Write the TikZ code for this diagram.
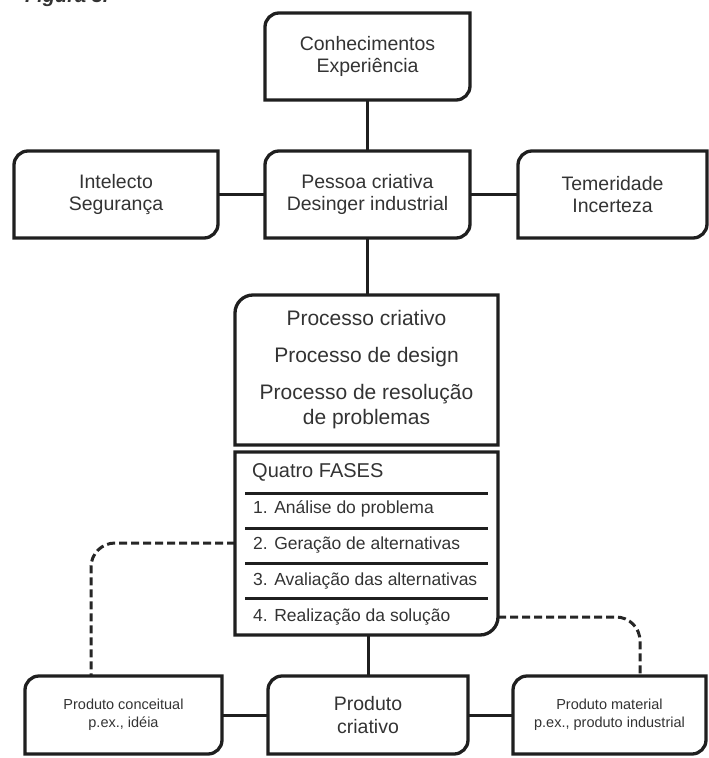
\documentclass[tikz,border=0pt]{standalone}
\usepackage{fontspec}
\setmainfont{Liberation Sans}

% Box outlines: rounded top-left and bottom-right corners
\newcommand\tlbrbox[2]{%
  \draw[ink] ([yshift=-#2pt]#1.north west)
    .. controls ([yshift=-0.45*#2pt]#1.north west) and ([xshift=0.45*#2pt]#1.north west) .. ([xshift=#2pt]#1.north west)
    -- (#1.north east) -- ([yshift=#2pt]#1.south east)
    .. controls ([yshift=0.45*#2pt]#1.south east) and ([xshift=-0.45*#2pt]#1.south east) .. ([xshift=-#2pt]#1.south east)
    -- (#1.south west) -- cycle;}
% only the top-left corner rounded
\newcommand\tlonlybox[2]{%
  \draw[ink] ([yshift=-#2pt]#1.north west)
    .. controls ([yshift=-0.45*#2pt]#1.north west) and ([xshift=0.45*#2pt]#1.north west) .. ([xshift=#2pt]#1.north west)
    -- (#1.north east) -- (#1.south east) -- (#1.south west) -- cycle;}
% only the bottom-right corner rounded
\newcommand\bronlybox[2]{%
  \draw[ink] (#1.north west) -- (#1.north east) -- ([yshift=#2pt]#1.south east)
    .. controls ([yshift=0.45*#2pt]#1.south east) and ([xshift=-0.45*#2pt]#1.south east) .. ([xshift=-#2pt]#1.south east)
    -- (#1.south west) -- cycle;}

\begin{document}
\begin{tikzpicture}[x=1pt,y=-1pt,
  ink/.style={draw=black!88, line width=3.3pt},
  link/.style={draw=black!88, line width=3pt},
  dashlink/.style={draw=black!85, line width=3pt, dash pattern=on 8pt off 4pt, rounded corners=24pt},
  frame/.style={inner sep=0pt, outer sep=0pt, draw=none, text=black!80, align=center},
  bigtxt/.style={font=\fontsize{19.5}{22.5}\selectfont},
  proctxt/.style={font=\fontsize{21}{25}\selectfont},
  smalltxt/.style={font=\fontsize{14.5}{18}\selectfont},
  phase/.style={inner sep=0pt, anchor=west, text=black!80, font=\fontsize{17.5}{21}\selectfont},
]
\useasboundingbox (0,0) rectangle (709,758);

% caption, partly cut off by the page edge
\node[anchor=base west, inner sep=0pt, text=black!80,
      font=\fontsize{20}{24}\selectfont\bfseries\itshape] (fig) at (25,2) {Figura 3.};

% boxes
\node[frame, bigtxt, minimum width=205pt, minimum height=87pt] (know) at (367.5,56.5) {Conhecimentos\\Experiência};
\node[frame, bigtxt, minimum width=205pt, minimum height=87pt] (person) at (367.5,194.5) {Pessoa criativa\\Desinger industrial};
\node[frame, bigtxt, minimum width=204pt, minimum height=87pt] (intel) at (116,194.5) {Intelecto\\Segurança};
\node[frame, bigtxt, minimum width=189pt, minimum height=87pt] (temer) at (612.5,194.5) {Temeridade\\Incerteza};
\node[frame, proctxt, minimum width=263pt, minimum height=150pt] (proc) at (366.5,370)
  {Processo criativo\\[12pt]Processo de design\\[12pt]Processo de resolução\\de problemas};
\node[frame, minimum width=263pt, minimum height=183pt] (fases) at (366.5,543.5) {};
\node[frame, bigtxt, minimum width=200pt, minimum height=78pt] (prodc) at (368,715) {Produto\\criativo};
\node[frame, smalltxt, minimum width=197pt, minimum height=78pt] (concept) at (123.5,715) {Produto conceitual\\p.ex., idéia};
\node[frame, smalltxt, minimum width=193pt, minimum height=78pt] (material) at (609.5,715) {Produto material\\p.ex., produto industrial};

% the four phases
\node[phase, font=\fontsize{20}{24}\selectfont] (f0) at (252,472) {Quatro FASES};
\node[phase] (f1) at (253,509) {1. Análise do problema};
\node[phase] (f2) at (253,545) {2. Geração de alternativas};
\node[phase] (f3) at (253,581) {3. Avaliação das alternativas};
\node[phase] (f4) at (253,617) {4. Realização da solução};
\foreach \yy in {493,528,563,598}
  \draw[link] (245,\yy) -- (488,\yy);

% solid connectors
\draw[link] (know.south) -- (person.north);
\draw[link] (intel.east) -- (person.west);
\draw[link] (person.east) -- (temer.west);
\draw[link] (person.south) -- (proc.north -| person.south);
\draw[link] (fases.south -| prodc.north) -- (prodc.north);
\draw[link] (concept.east) -- (prodc.west);
\draw[link] (prodc.east) -- (material.west);

% dashed connectors
\coordinate (dl) at (91,543);
\draw[dashlink] (fases.west |- dl) -- (dl) -- (dl |- concept.north);
\coordinate (dr) at (640,617);
\draw[dashlink] (fases.east |- dr) -- (dr) -- (dr |- material.north);

% outlines
\tlbrbox{know}{14}
\tlbrbox{person}{14}
\tlbrbox{intel}{14}
\tlbrbox{temer}{14}
\tlonlybox{proc}{18}
\bronlybox{fases}{18}
\tlbrbox{prodc}{14}
\tlbrbox{concept}{14}
\tlbrbox{material}{14}
\end{tikzpicture}
\end{document}
